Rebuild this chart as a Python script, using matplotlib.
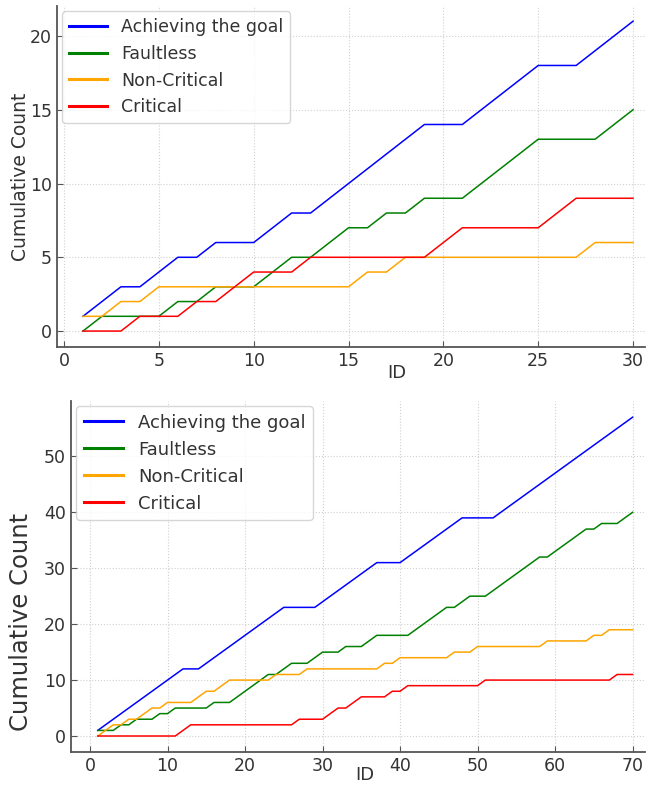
import numpy as np
import matplotlib
matplotlib.use("Agg")
import matplotlib.pyplot as plt

# ---- data: first set (IDs 1..30)
ids_a = list(range(1, 31))
goal_a = [1, 2, 3, 3, 4, 5, 5, 6, 6, 6, 7, 8, 8, 9, 10, 11, 12, 13, 14, 14,
          14, 15, 16, 17, 18, 18, 18, 19, 20, 21]
faultless_a = [0, 1, 1, 1, 1, 2, 2, 3, 3, 3, 4, 5, 5, 6, 7, 7, 8, 8, 9, 9,
               9, 10, 11, 12, 13, 13, 13, 13, 14, 15]
noncrit_a = [1, 1, 2, 2, 3, 3, 3, 3, 3, 3, 3, 3, 3, 3, 3, 4, 4, 5, 5, 5,
             5, 5, 5, 5, 5, 5, 5, 6, 6, 6]
crit_a = [0, 0, 0, 1, 1, 1, 2, 2, 3, 4, 4, 4, 5, 5, 5, 5, 5, 5, 5, 6,
          7, 7, 7, 7, 7, 8, 9, 9, 9, 9]

# ---- data: second set (IDs 1..70)
ids_b = list(range(1, 71))
goal_b = [1, 2, 3, 4, 5, 6, 7, 8, 9, 10, 11, 12, 12, 12, 13, 14, 15, 16, 17, 18,
          19, 20, 21, 22, 23, 23, 23, 23, 23, 24, 25, 26, 27, 28, 29, 30, 31, 31, 31, 31,
          32, 33, 34, 35, 36, 37, 38, 39, 39, 39, 39, 39, 40, 41, 42, 43, 44, 45, 46, 47,
          48, 49, 50, 51, 52, 53, 54, 55, 56, 57]
faultless_b = [1, 1, 1, 2, 2, 3, 3, 3, 4, 4, 5, 5, 5, 5, 5, 6, 6, 6, 7, 8,
               9, 10, 11, 11, 12, 13, 13, 13, 14, 15, 15, 15, 16, 16, 16, 17, 18, 18, 18, 18,
               18, 19, 20, 21, 22, 23, 23, 24, 25, 25, 25, 26, 27, 28, 29, 30, 31, 32, 32, 33,
               34, 35, 36, 37, 37, 38, 38, 38, 39, 40]
noncrit_b = [0, 1, 2, 2, 3, 3, 4, 5, 5, 6, 6, 6, 6, 7, 8, 8, 9, 10, 10, 10,
             10, 10, 10, 11, 11, 11, 11, 12, 12, 12, 12, 12, 12, 12, 12, 12, 12, 13, 13, 14,
             14, 14, 14, 14, 14, 14, 15, 15, 15, 16, 16, 16, 16, 16, 16, 16, 16, 16, 17, 17,
             17, 17, 17, 17, 18, 18, 19, 19, 19, 19]
crit_b = [0, 0, 0, 0, 0, 0, 0, 0, 0, 0, 0, 1, 2, 2, 2, 2, 2, 2, 2, 2,
          2, 2, 2, 2, 2, 2, 3, 3, 3, 3, 4, 5, 5, 6, 7, 7, 7, 7, 8, 8,
          9, 9, 9, 9, 9, 9, 9, 9, 9, 9, 10, 10, 10, 10, 10, 10, 10, 10, 10, 10,
          10, 10, 10, 10, 10, 10, 10, 11, 11, 11]

labels = ["Achieving the goal", "Faultless", "Non-Critical", "Critical"]
colors = ["blue", "green", "orange", "red"]

W, H = 658, 785
fig = plt.figure(figsize=(W / 100, H / 100), dpi=100)


def box(l, r, t, b):
    return [l / W, 1 - b / H, (r - l) / W, (b - t) / H]


def style(ax, fs_legend, ylab_size, label_xy):
    for s in ["top", "right"]:
        ax.spines[s].set_visible(False)
    for s in ["left", "bottom"]:
        ax.spines[s].set_color("#555555")
        ax.spines[s].set_linewidth(1.3)
    ax.tick_params(direction="in", length=4, color="#555555",
                   labelsize=12.5, labelcolor="#333333")
    ax.grid(True, linestyle=":", color="#d0d0d0", linewidth=0.8)
    ax.set_axisbelow(True)
    ax.set_ylabel("Cumulative Count", fontsize=ylab_size, color="#333333")
    ax.set_xlabel("ID", fontsize=13, color="#333333")
    ax.xaxis.set_label_coords(*label_xy)
    leg = ax.legend(loc="upper left", fontsize=fs_legend, borderaxespad=0.3,
                    handlelength=2.2, frameon=True)
    for t in leg.get_texts():
        t.set_color("#333333")
    for ln in leg.get_lines():
        ln.set_linewidth(2.2)
    leg.get_frame().set_edgecolor("#cccccc")


ax1 = fig.add_axes(box(57, 645, 6, 347))
for vals, lab, c in zip([goal_a, faultless_a, noncrit_a, crit_a], labels, colors):
    ax1.plot(ids_a, vals, color=c, lw=1.1, label=lab)
ax1.set_xlim(-0.37, 30.63)
ax1.set_ylim(-1.08, 22.03)
ax1.set_xticks(range(0, 31, 5))
ax1.set_yticks(range(0, 21, 5))
style(ax1, 12.5, 13.5, (0.578, -0.05))
ax1.yaxis.set_label_coords(-0.046, 0.5)

ax2 = fig.add_axes(box(71, 645, 401, 752))
for vals, lab, c in zip([goal_b, faultless_b, noncrit_b, crit_b], labels, colors):
    ax2.plot(ids_b, vals, color=c, lw=1.1, label=lab)
ax2.set_xlim(-2.45, 71.6)
ax2.set_ylim(-2.86, 59.9)
ax2.set_xticks(range(0, 71, 10))
ax2.set_yticks(range(0, 51, 10))
style(ax2, 13, 17.5, (0.512, -0.04))
ax2.yaxis.set_label_coords(-0.066, 0.37)

fig.savefig("out.png", dpi=100)
